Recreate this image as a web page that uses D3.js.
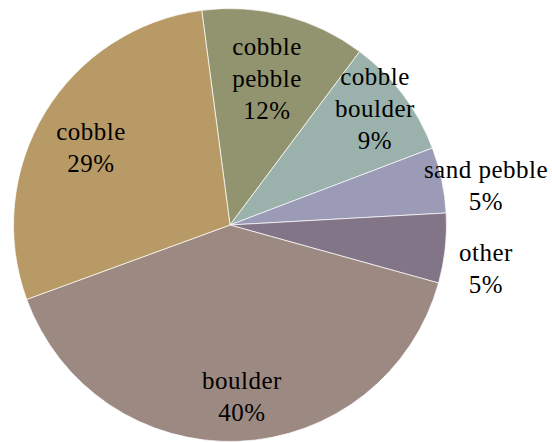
<!DOCTYPE html>
<html>
<head>
<meta charset="utf-8">
<script src="https://d3js.org/d3.v7.min.js"></script>
<style>
  body { margin: 0; background: #fff; }
</style>
</head>
<body>
<div id="chart"></div>
<script>
// Define SVG area dimensions
var svgWidth = 552;
var svgHeight = 442;

// slice data, clockwise from the top
var categories = ["cobble pebble", "cobble boulder", "sand pebble", "other", "boulder", "cobble"];
var shares = [12.3, 9.0, 4.9, 5.2, 40.1, 28.5];
var sliceColors = ["#929470", "#9ab2ab", "#9b9bb8", "#827587", "#9c8a82", "#b89a66"];

// label lines and where they sit (centre x, first baseline)
var labelLines = [["cobble", "pebble"], ["cobble", "boulder"], ["sand pebble"], ["other"], ["boulder"], ["cobble"]];
var labelPos = [[267, 55], [375, 85], [486, 178], [486, 261], [242, 389], [91, 140]];

var cx = 230, cy = 225, radius = 216.5;
var lineStep = 32;

var data = categories.map(function(c, i) {
  return { name: c, value: shares[i], color: sliceColors[i], lines: labelLines[i], pos: labelPos[i] };
});

var svg = d3.select("#chart")
  .append("svg")
  .attr("width", svgWidth)
  .attr("height", svgHeight);

var chartGroup = svg.append("g")
  .attr("transform", `translate(${cx}, ${cy})`);

var start = -7.5 * Math.PI / 180;
var pie = d3.pie()
  .sort(null)
  .value(d => d.value)
  .startAngle(start)
  .endAngle(start + 2 * Math.PI);

var arc = d3.arc()
  .innerRadius(0)
  .outerRadius(radius);

chartGroup.selectAll("path")
  .data(pie(data))
  .enter()
  .append("path")
  .attr("d", arc)
  .attr("fill", d => d.data.color)
  .attr("stroke", "#ffffff")
  .attr("stroke-width", 0.7);

// labels
var labels = svg.selectAll("text.label")
  .data(data)
  .enter()
  .append("text")
  .attr("class", "label")
  .attr("text-anchor", "middle")
  .style("font-family", '"Liberation Serif"')
  .style("font-size", "25px")
  .style("letter-spacing", "0.5px")
  .attr("fill", "#000");

labels.each(function(d) {
  var t = d3.select(this);
  var lines = d.lines.concat([Math.round(d.value) + "%"]);
  lines.forEach(function(s, i) {
    t.append("tspan")
      .attr("x", d.pos[0])
      .attr("y", d.pos[1] + i * lineStep)
      .text(s);
  });
});
</script>
</body>
</html>
